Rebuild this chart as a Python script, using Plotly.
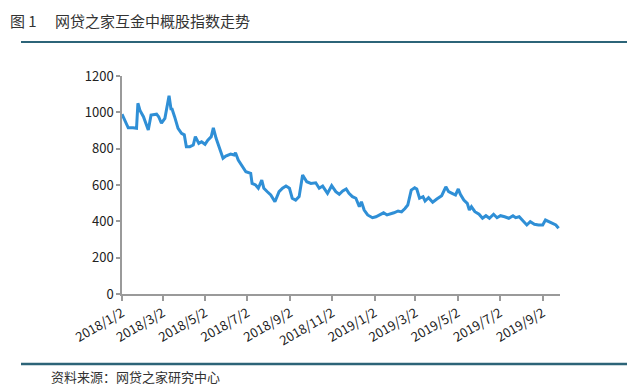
import plotly.graph_objects as go

# ---- data ----
dates = [
    "2018-01-02", "2018-01-06", "2018-01-11", "2018-01-18", "2018-01-23", "2018-01-25",
    "2018-01-28", "2018-02-02", "2018-02-09", "2018-02-13", "2018-02-21", "2018-02-24",
    "2018-02-28", "2018-03-05", "2018-03-11", "2018-03-14", "2018-03-15", "2018-03-19",
    "2018-03-24", "2018-03-29", "2018-04-02", "2018-04-05", "2018-04-10", "2018-04-15",
    "2018-04-18", "2018-04-23", "2018-04-27", "2018-05-02", "2018-05-06", "2018-05-11",
    "2018-05-14", "2018-05-18", "2018-05-23", "2018-05-28", "2018-06-01", "2018-06-08",
    "2018-06-13", "2018-06-15", "2018-06-19", "2018-06-25", "2018-06-30", "2018-07-07",
    "2018-07-09", "2018-07-14", "2018-07-18", "2018-07-23", "2018-07-26", "2018-07-31",
    "2018-08-05", "2018-08-11", "2018-08-17", "2018-08-22", "2018-08-27", "2018-09-01",
    "2018-09-05", "2018-09-10", "2018-09-15", "2018-09-20", "2018-09-26", "2018-10-02",
    "2018-10-09", "2018-10-14", "2018-10-19", "2018-10-26", "2018-11-01", "2018-11-07",
    "2018-11-12", "2018-11-17", "2018-11-22", "2018-11-26", "2018-12-01", "2018-12-06",
    "2018-12-11", "2018-12-14", "2018-12-18", "2018-12-23", "2018-12-30", "2019-01-04",
    "2019-01-09", "2019-01-15", "2019-01-20", "2019-01-26", "2019-01-30", "2019-02-05",
    "2019-02-10", "2019-02-15", "2019-02-19", "2019-02-24", "2019-03-01", "2019-03-04",
    "2019-03-08", "2019-03-13", "2019-03-16", "2019-03-21", "2019-03-27", "2019-04-02",
    "2019-04-09", "2019-04-15", "2019-04-19", "2019-04-24", "2019-04-29", "2019-05-03",
    "2019-05-06", "2019-05-11", "2019-05-16", "2019-05-19", "2019-05-22", "2019-05-27",
    "2019-06-02", "2019-06-07", "2019-06-12", "2019-06-17", "2019-06-23", "2019-06-28",
    "2019-07-03", "2019-07-09", "2019-07-15", "2019-07-21", "2019-07-25", "2019-07-30",
    "2019-08-05", "2019-08-10", "2019-08-15", "2019-08-21", "2019-08-27", "2019-09-02",
    "2019-09-06", "2019-09-12", "2019-09-16", "2019-09-21", "2019-09-25",
]
index_values = [
    990, 957, 915, 915, 912, 1050,
    1010, 976, 903, 985, 990, 976,
    940, 967, 1091, 1013, 1022, 976,
    912, 884, 876, 811, 811, 820,
    866, 829, 838, 824, 847, 866,
    915, 857, 800, 747, 759, 770,
    765, 778, 737, 700, 673, 664,
    609, 600, 582, 627, 582, 563,
    545, 508, 563, 582, 594, 582,
    527, 517, 536, 655, 618, 609,
    612, 582, 594, 554, 596, 563,
    549, 567, 578, 554, 536, 527,
    480, 508, 462, 435, 420, 425,
    435, 447, 435, 440, 447, 457,
    452, 471, 490, 572, 585, 578,
    527, 536, 512, 530, 505, 523,
    541, 590, 563, 554, 545, 578,
    549, 517, 499, 462, 480, 453,
    439, 417, 431, 417, 439, 420,
    431, 425, 417, 431, 420, 425,
    398, 380, 398, 384, 380, 380,
    407, 395, 389, 380, 362,
]
tick_dates = ["2018-01-02", "2018-03-02", "2018-05-02", "2018-07-02", "2018-09-02",
              "2018-11-02", "2019-01-02", "2019-03-02", "2019-05-02", "2019-07-02",
              "2019-09-02"]
tick_labels = ["2018/1/2", "2018/3/2", "2018/5/2", "2018/7/2", "2018/9/2",
               "2018/11/2", "2019/1/2", "2019/3/2", "2019/5/2", "2019/7/2", "2019/9/2"]
y_ticks = [0, 200, 400, 600, 800, 1000, 1200]

# ---- layout geometry (pixels) ----
W, H = 640, 388
L, R, T, B = 122, 560, 76, 294   # plot area edges in px


def px(x):
    return (x - L) / (R - L)


def py(y):
    return (B - y) / (B - T)


FONT = "Noto Sans CJK SC, Noto Sans, sans-serif"
LINE_BLUE = "#2f8fd6"
RULE = "#2c6478"

fig = go.Figure()
fig.add_trace(go.Scatter(
    x=dates, y=index_values, mode="lines",
    line=dict(color=LINE_BLUE, width=3),
    hoverinfo="x+y", showlegend=False,
))

fig.update_layout(
    width=W, height=H,
    margin=dict(l=L, r=W - R, t=T, b=H - B, pad=0),
    paper_bgcolor="white", plot_bgcolor="white",
    font=dict(family=FONT, color="#333333", size=13),
    xaxis=dict(
        type="date",
        range=["2018-01-02", "2019-09-27"],
        tickvals=tick_dates, ticktext=tick_labels,
        tickangle=-30, tickfont=dict(size=13, color="#222222"),
        showline=True, linecolor="#9a9a9a", linewidth=1.5,
        ticks="outside", ticklen=5, tickcolor="#9a9a9a", tickwidth=1.5,
        showgrid=False, zeroline=False,
    ),
    yaxis=dict(
        range=[0, 1200],
        tickvals=y_ticks,
        tickfont=dict(size=13, color="#222222"),
        showline=True, linecolor="#9a9a9a", linewidth=1.5,
        ticks="outside", ticklen=4, tickcolor="#9a9a9a", tickwidth=1.5,
        showgrid=False, zeroline=False,
    ),
    shapes=[
        dict(type="line", xref="paper", yref="paper",
             x0=px(21), x1=px(627), y0=py(42), y1=py(42),
             line=dict(color=RULE, width=2)),
        dict(type="line", xref="paper", yref="paper",
             x0=px(21), x1=px(627), y0=py(364), y1=py(364),
             line=dict(color=RULE, width=2.5)),
    ],
    annotations=[
        dict(text="图 1　 网贷之家互金中概股指数走势", xref="paper", yref="paper",
             x=px(8), y=py(20), xanchor="left", yanchor="middle",
             showarrow=False, font=dict(size=15, color="#333333", family=FONT)),
        dict(text="资料来源：网贷之家研究中心", xref="paper", yref="paper",
             x=px(49), y=py(376), xanchor="left", yanchor="middle",
             showarrow=False, font=dict(size=13, color="#333333", family=FONT)),
    ],
)

fig.write_html(
    "out.html",
    config={"displayModeBar": False},
    post_script="document.body.style.margin='0';document.body.style.padding='0';"
                "document.body.style.overflow='hidden';",
)
